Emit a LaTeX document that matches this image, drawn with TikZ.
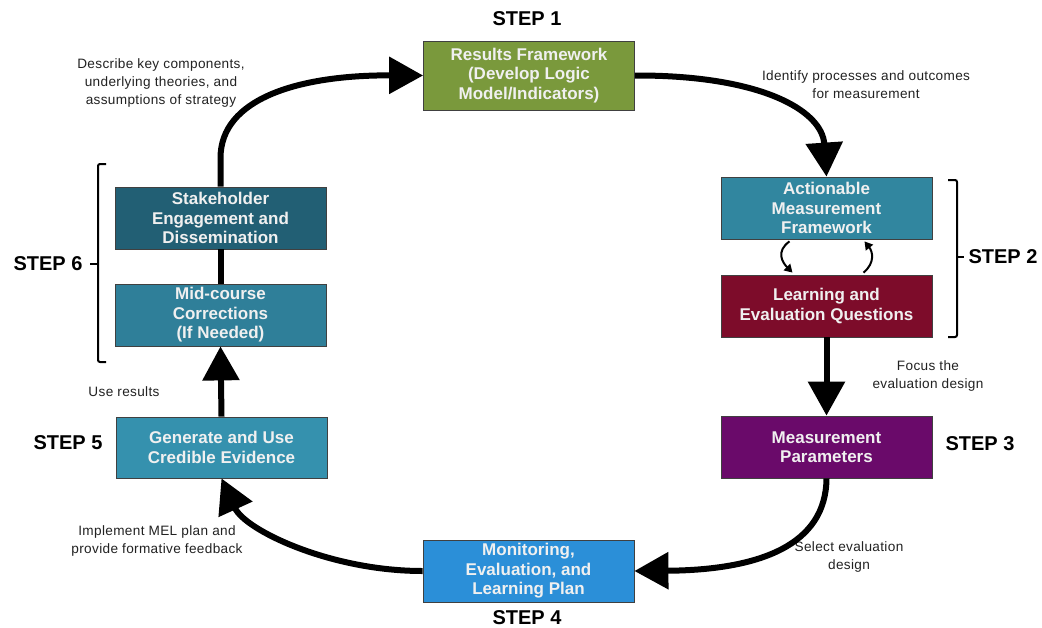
\documentclass[tikz,border=0pt]{standalone}
\usepackage{fontspec}
\setmainfont{Liberation Sans}
\newfontfamily\notefont[LetterSpace=2.5]{Liberation Sans}
\usetikzlibrary{arrows.meta,calc}
\definecolor{cgreen}{HTML}{7A993C}
\definecolor{cteal}{HTML}{31869F}
\definecolor{cred}{HTML}{7D0C2A}
\definecolor{cpurple}{HTML}{6A0A6A}
\definecolor{cblue}{HTML}{2B8FD8}
\definecolor{cgen}{HTML}{3591AE}
\definecolor{cmid}{HTML}{2F7F99}
\definecolor{cstk}{HTML}{225F74}
\definecolor{ctxt}{HTML}{222222}
\begin{document}
\begin{tikzpicture}[x=1pt,y=-1pt,
  box/.style={draw=black!75,line width=0.8pt,minimum width=211pt,minimum height=62pt,
    text=white!94!black,font=\fontsize{17}{19.5}\selectfont\bfseries,align=center,inner sep=0pt},
  steplbl/.style={font=\fontsize{20}{22}\selectfont\bfseries,text=black,inner sep=0pt},
  note/.style={font=\notefont\fontsize{13.6}{18}\selectfont,text=ctxt,align=center,inner sep=0pt},
  bigarrow/.style={line width=6pt,draw=black,-{Triangle[length=34pt,width=36pt]}},
  thick line/.style={line width=6pt,draw=black},
  smallarrow/.style={line width=2pt,draw=black,-{Triangle[length=8pt,width=9pt]}},
  bracket/.style={line width=2pt,draw=black,rounded corners=2pt}]
\useasboundingbox (0,0) rectangle (1042,627);
\fill[white] (0,0) rectangle (1042,627);

% boxes
\node[box,fill=cgreen,minimum height=69pt] (res) at (529,75.5) {Results Framework\\(Develop Logic\\Model/Indicators)};
\node[box,fill=cteal] (act) at (826.5,208) {Actionable\\Measurement\\Framework};
\node[box,fill=cred] (leq) at (826.5,306) {Learning and\\Evaluation Questions};
\node[box,fill=cpurple] (mp) at (826.5,447) {Measurement\\Parameters};
\node[box,fill=cblue] (mon) at (528.5,571) {Monitoring,\\Evaluation, and\\Learning Plan};
\node[box,fill=cgen,minimum height=61pt] (gen) at (221.5,447.5) {Generate and Use\\Credible Evidence};
\node[box,fill=cmid] (mid) at (220.5,315) {Mid-course\\Corrections\\(If Needed)};
\node[box,fill=cstk] (stk) at (220.5,218) {Stakeholder\\Engagement and\\Dissemination};

% step labels
\node[steplbl] (s1) at (527,19) {STEP 1};
\node[steplbl] (s2) at (1003,257) {STEP 2};
\node[steplbl] (s3) at (980,444) {STEP 3};
\node[steplbl] (s4) at (527,618) {STEP 4};
\node[steplbl] (s5) at (68,443) {STEP 5};
\node[steplbl] (s6) at (48,264) {STEP 6};

% notes
\node[note] (n1) at (161,83) {Describe key components,\\underlying theories, and\\assumptions of strategy};
\node[note] (n2) at (866,85) {Identify processes and outcomes\\for measurement};
\node[note] (n3) at (928,376) {Focus the\\evaluation design};
\node[note] (n4) at (124,392) {Use results};
\node[note] (n5) at (157,541) {Implement MEL plan and\\provide formative feedback};
\node[note] (n6) at (849,557) {Select evaluation\\design};

% brackets
\draw[bracket] (948,180) -- (957,180) -- (957,337) -- (948,337);
\draw[line width=2pt] (957,257) -- (964,257);
\draw[bracket] (106,164) -- (98,164) -- (98,362) -- (106,362);
\draw[line width=2pt] (98,264) -- (90,264);

% connectors
\draw[bigarrow] (stk.north) -- ++(0,-28) .. controls (220,98) and (300,75) .. (res.west);
\draw[bigarrow] (res.east) .. controls (760,75) and (822,110) .. (act.north);
\draw[smallarrow] ($(act.south)+(-37,2)$) .. controls +(-14,10) and +(-10,-10) .. ($(leq.north)+(-34,-2)$);
\draw[smallarrow] ($(leq.north)+(37,-2)$) .. controls +(12,-10) and +(8,10) .. ($(act.south)+(38,2)$);
\draw[bigarrow] (leq.south) -- (mp.north);
\draw[bigarrow] (mp.south) .. controls (826,545) and (760,570) .. (mon.east);
\draw[bigarrow] (mon.west) .. controls (330,571) and (245,530) .. (gen.south);
\draw[bigarrow] (gen.north) -- (mid.south);
\draw[thick line] (mid.north) -- (stk.south);
\end{tikzpicture}
\end{document}
